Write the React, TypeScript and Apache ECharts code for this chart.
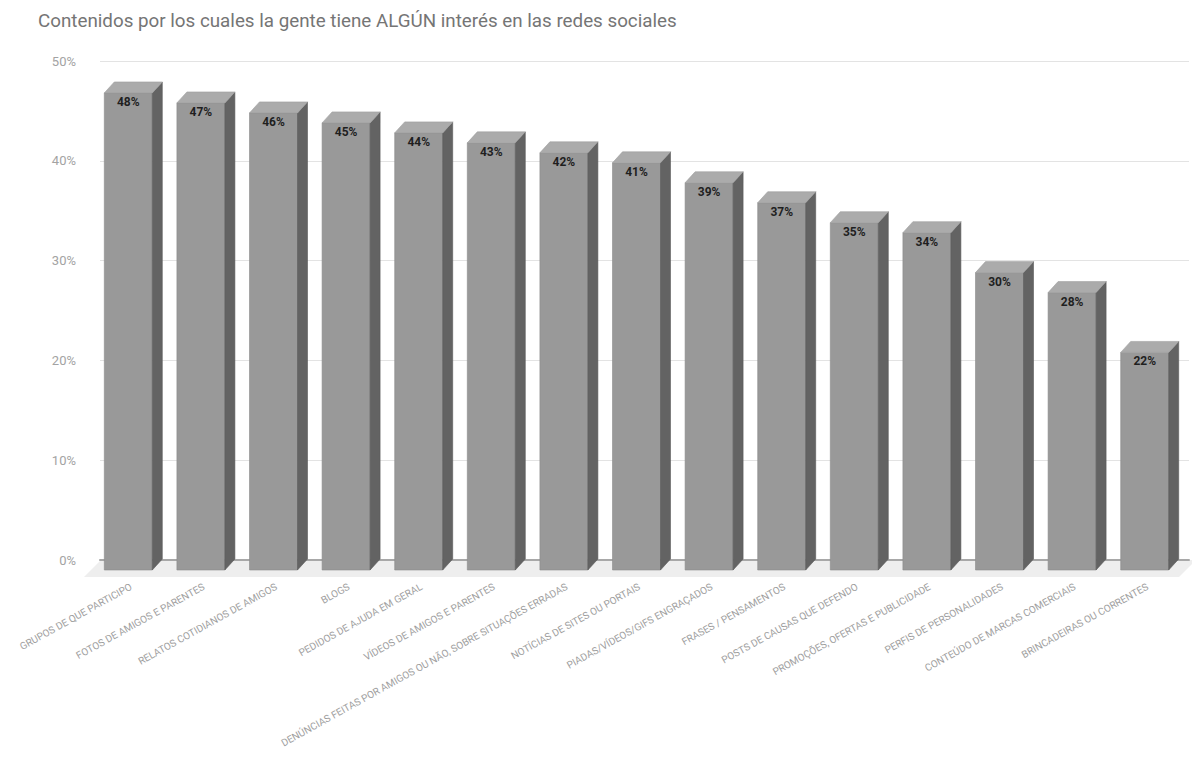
import React, { useEffect, useRef } from "react";
import * as echarts from "echarts";

const TITLE = "Contenidos por los cuales la gente tiene ALGÚN interés en las redes sociales";

const categories = [
  "GRUPOS DE QUE PARTICIPO",
  "FOTOS DE AMIGOS E PARENTES",
  "RELATOS COTIDIANOS DE AMIGOS",
  "BLOGS",
  "PEDIDOS DE AJUDA EM GERAL",
  "VÍDEOS DE AMIGOS E PARENTES",
  "DENÚNCIAS FEITAS POR AMIGOS OU NÃO, SOBRE SITUAÇÕES ERRADAS",
  "NOTÍCIAS DE SITES OU PORTAIS",
  "PIADAS/VÍDEOS/GIFS ENGRAÇADOS",
  "FRASES / PENSAMENTOS",
  "POSTS DE CAUSAS QUE DEFENDO",
  "PROMOÇÕES, OFERTAS E PUBLICIDADE",
  "PERFIS DE PERSONALIDADES",
  "CONTEÚDO DE MARCAS COMERCIAIS",
  "BRINCADEIRAS OU CORRENTES",
];

const values = [48, 47, 46, 45, 44, 43, 42, 41, 39, 37, 35, 34, 30, 28, 22];

const yTicks = { min: 0, max: 50, interval: 10 };

const FONT = "Roboto, 'Noto Sans', sans-serif";

export default function App() {
  const ref = useRef<HTMLDivElement>(null);

  useEffect(() => {
    if (!ref.current) return;
    const chart = echarts.init(ref.current, null, { renderer: "svg" });

    // 3D-looking column: front face, right side face and top face
    const renderItem = (params: any, api: any) => {
      const i = api.value(0);
      const v = api.value(1);
      const top = api.coord([i, v]);
      const base = api.coord([i, 0]);
      const cx = top[0];
      const xL = cx - 32;
      const xR = cx + 16;
      const dx = 10;
      const dy = 11;
      const yF = top[1] + 12;
      const yB = base[1] + 10;
      return {
        type: "group",
        children: [
          {
            type: "rect",
            shape: { x: xL, y: yF, width: xR - xL, height: yB - yF },
            style: { fill: "#999999", stroke: "#8c8c8c", lineWidth: 0.6 },
          },
          {
            type: "polygon",
            shape: {
              points: [
                [xR, yF],
                [xR + dx, yF - dy],
                [xR + dx, yB - dy],
                [xR, yB],
              ],
            },
            style: { fill: "#636363", stroke: "#5a5a5a", lineWidth: 0.6 },
          },
          {
            type: "polygon",
            shape: {
              points: [
                [xL, yF],
                [xR, yF],
                [xR + dx, yF - dy],
                [xL + dx, yF - dy],
              ],
            },
            style: { fill: "#ababab", stroke: "#a0a0a0", lineWidth: 0.6 },
          },
          {
            type: "text",
            style: {
              x: (xL + xR) / 2,
              y: yF + 9,
              text: v + "%",
              fill: "#1f1f1f",
              font: "bold 12px " + FONT,
              align: "center",
              verticalAlign: "middle",
            },
          },
        ],
      };
    };

    chart.setOption({
      animation: false,
      backgroundColor: "#ffffff",
      title: {
        text: TITLE,
        left: 33,
        top: 6,
        textStyle: { fontFamily: FONT, fontSize: 18.8, fontWeight: "normal", color: "#757575" },
      },
      grid: { left: 100, right: 3, top: 61, bottom: 198, outerBoundsMode: "none" },
      xAxis: {
        type: "category",
        data: categories,
        z: 2,
        axisTick: { show: false },
        axisLine: { show: true, lineStyle: { color: "#a8a8a8", width: 2 } },
        axisLabel: {
          interval: 0,
          rotate: 29,
          margin: 23,
          padding: [0, 6, 0, 0],
          fontFamily: FONT,
          fontSize: 10,
          color: "#9e9e9e",
        },
      },
      yAxis: {
        type: "value",
        min: yTicks.min,
        max: yTicks.max,
        interval: yTicks.interval,
        axisLine: { show: false },
        axisTick: { show: false },
        axisLabel: {
          formatter: "{value}%",
          margin: 24,
          fontFamily: FONT,
          fontSize: 13,
          color: "#a3a3a3",
        },
        splitLine: { lineStyle: { color: "#e3e3e3", width: 1 } },
      },
      graphic: [
        {
          // floor under the columns
          type: "polygon",
          z: 1,
          shape: {
            points: [
              [101, 560],
              [1196, 560],
              [1179, 577],
              [84, 577],
            ],
          },
          style: { fill: "#eeeeee" },
        },
      ],
      series: [
        {
          type: "custom",
          z: 3,
          renderItem,
          data: values.map((v, i) => [i, v]),
        },
      ],
    });

    return () => chart.dispose();
  }, []);

  return (
    <div
      ref={ref}
      style={{ position: "fixed", left: 0, top: 0, width: 1192, height: 758 }}
    />
  );
}
